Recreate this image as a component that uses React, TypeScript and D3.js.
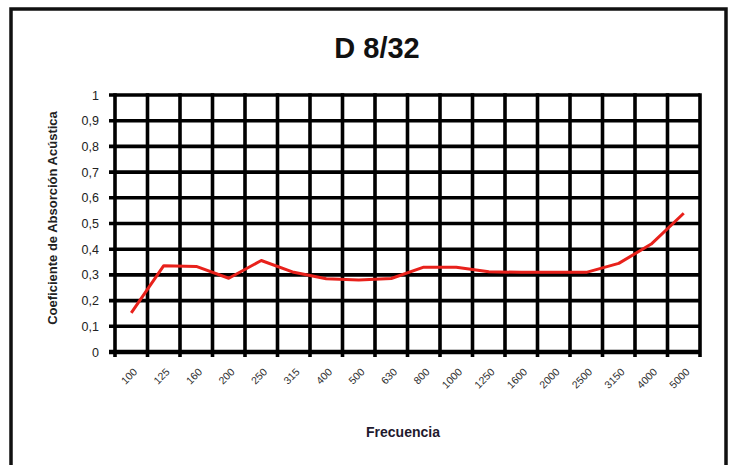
import { useEffect, useRef } from 'react'
import * as d3 from 'd3'

const frequencies = ['100', '125', '160', '200', '250', '315', '400', '500', '630', '800', '1000', '1250', '1600', '2000', '2500', '3150', '4000', '5000']
const absorption = [0.152, 0.336, 0.333, 0.287, 0.356, 0.31, 0.285, 0.28, 0.286, 0.33, 0.33, 0.312, 0.31, 0.31, 0.31, 0.345, 0.42, 0.54]
const yTicks = [0, 0.1, 0.2, 0.3, 0.4, 0.5, 0.6, 0.7, 0.8, 0.9, 1]

const FONT = '"Liberation Sans", Arial, sans-serif'

export default function App() {
  const svgRef = useRef<SVGSVGElement>(null)

  useEffect(() => {
    if (!svgRef.current) return
    const width = 731
    const height = 465
    const plot = { left: 115, right: 700, top: 95, bottom: 352 }

    const svg = d3.select(svgRef.current)
    svg.selectAll('*').remove()
    svg.attr('width', width).attr('height', height)

    svg.append('rect').attr('width', width).attr('height', height).attr('fill', '#ffffff')

    // marco exterior
    svg.append('rect')
      .attr('x', 11)
      .attr('y', 9)
      .attr('width', 715)
      .attr('height', 480)
      .attr('fill', 'none')
      .attr('stroke', '#111')
      .attr('stroke-width', 3.5)

    const x = d3.scaleBand<string>()
      .domain(frequencies)
      .range([plot.left, plot.right])

    const y = d3.scaleLinear()
      .domain([0, 1])
      .range([plot.bottom, plot.top])

    const g = svg.append('g')

    // líneas horizontales
    g.selectAll('.hgrid')
      .data(yTicks)
      .enter()
      .append('line')
      .attr('x1', plot.left - 6)
      .attr('x2', plot.right)
      .attr('y1', d => y(d))
      .attr('y2', d => y(d))
      .attr('stroke', '#000')
      .attr('stroke-width', d => (d === 0 ? 4.5 : 3.6))

    // líneas verticales en los límites de categoría
    const bounds = frequencies.map(f => x(f) as number).concat([plot.right])
    g.selectAll('.vgrid')
      .data(bounds)
      .enter()
      .append('line')
      .attr('x1', d => d)
      .attr('x2', d => d)
      .attr('y1', plot.top - 1.8)
      .attr('y2', plot.bottom + 5)
      .attr('stroke', '#000')
      .attr('stroke-width', 3.6)

    // etiquetas eje Y
    g.selectAll('.ylab')
      .data(yTicks)
      .enter()
      .append('text')
      .attr('x', 99)
      .attr('y', d => y(d))
      .attr('dy', '0.36em')
      .attr('text-anchor', 'end')
      .attr('font-family', FONT)
      .attr('font-size', 12.5)
      .attr('fill', '#222')
      .text(d => String(d).replace('.', ','))

    // etiquetas eje X
    g.selectAll('.xlab')
      .data(frequencies)
      .enter()
      .append('text')
      .attr('transform', d => `translate(${(x(d) as number) + x.bandwidth() / 2 + 4},${370}) rotate(-45)`)
      .attr('dy', '0.35em')
      .attr('text-anchor', 'end')
      .attr('font-family', FONT)
      .attr('font-size', 10.5)
      .attr('fill', '#2e2e2e')
      .text(d => d)

    // curva
    const line = d3.line<number>()
      .x((_, i) => (x(frequencies[i]) as number) + x.bandwidth() / 2)
      .y(d => y(d))

    g.append('path')
      .datum(absorption)
      .attr('fill', 'none')
      .attr('stroke', '#e8211b')
      .attr('stroke-width', 3)
      .attr('stroke-linejoin', 'round')
      .attr('d', line)

    // títulos
    svg.append('text')
      .attr('x', 377)
      .attr('y', 58)
      .attr('text-anchor', 'middle')
      .attr('font-family', FONT)
      .attr('font-weight', 'bold')
      .attr('font-size', 29)
      .attr('fill', '#111')
      .text('D 8/32')

    svg.append('text')
      .attr('transform', 'translate(57,218) rotate(-90)')
      .attr('text-anchor', 'middle')
      .attr('font-family', FONT)
      .attr('font-weight', 'bold')
      .attr('font-size', 13)
      .attr('fill', '#222')
      .text('Coeficiente de Absorción Acústica')

    svg.append('text')
      .attr('x', 403)
      .attr('y', 437)
      .attr('text-anchor', 'middle')
      .attr('font-family', FONT)
      .attr('font-weight', 'bold')
      .attr('font-size', 14)
      .attr('fill', '#1f1a2e')
      .text('Frecuencia')
  }, [])

  return (
    <div style={{ position: 'absolute', left: 0, top: 0 }}>
      <svg ref={svgRef} style={{ display: 'block' }} />
    </div>
  )
}
